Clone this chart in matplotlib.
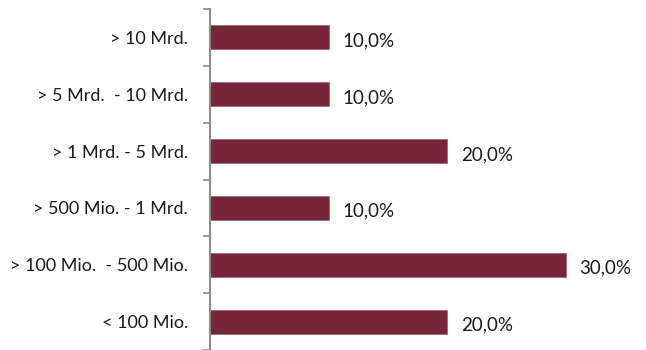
import matplotlib.pyplot as plt
import numpy as np

# Bands of company size and their share
categories = ["> 10 Mrd.", "> 5 Mrd.  - 10 Mrd.", "> 1 Mrd. - 5 Mrd.",
              "> 500 Mio. - 1 Mrd.", "> 100 Mio.  - 500 Mio.", "< 100 Mio."]
shares = [10.0, 10.0, 20.0, 10.0, 30.0, 20.0]

bar_color = "#772639"
axis_color = "#8c8c8c"

plt.rcParams["font.family"] = ["Lato", "DejaVu Sans"]

fig = plt.figure(figsize=(6.46, 3.5), dpi=100)
ax = fig.add_axes([210 / 646, 0, 1 - 210 / 646, 341 / 350])

y = np.arange(len(categories))
ax.barh(y, shares, height=0.42, color=bar_color, edgecolor="#a06070", linewidth=0.5)

# value labels to the right of each bar, German decimal comma
for yi, v in zip(y, shares):
    ax.text(v + 1.15, yi + 0.06, "{:.1f}%".format(v).replace(".", ","),
            va="center", ha="left", fontsize=13.5, color="#1a1a1a")

ax.set_xlim(0, (646 - 210) / 11.85)
ax.set_ylim(len(categories) - 0.5, -0.5)

ax.set_yticks(y)
ax.set_yticklabels(categories, fontsize=13, color="#1a1a1a")
ax.tick_params(axis="y", which="major", length=0, pad=16)
# small tick marks between the categories
ax.set_yticks(np.arange(len(categories) + 1) - 0.5, minor=True)
ax.tick_params(axis="y", which="minor", length=5, width=1.2, color=axis_color)
ax.set_xticks([])

for side in ["top", "right", "bottom"]:
    ax.spines[side].set_visible(False)
ax.spines["left"].set_color(axis_color)
ax.spines["left"].set_linewidth(1.5)

fig.savefig("out.png", dpi=100)
